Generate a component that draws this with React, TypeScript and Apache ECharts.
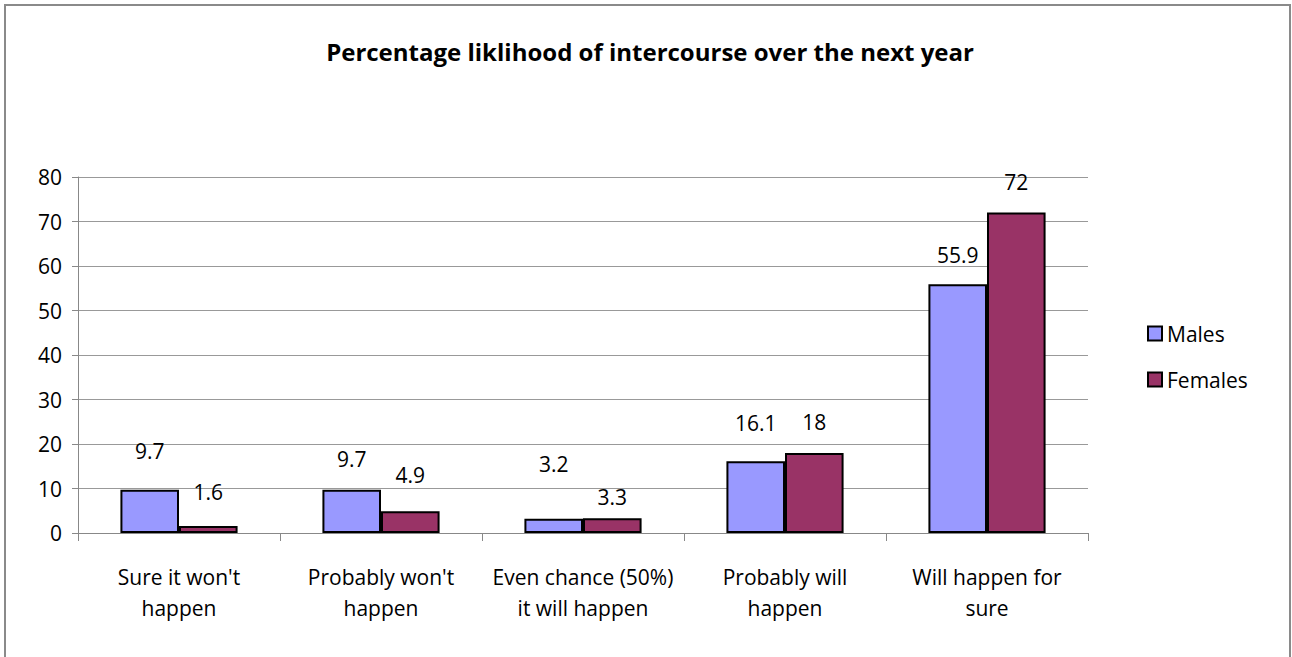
import React, { useEffect, useRef } from "react";
import * as echarts from "echarts";

const categories = [
  "Sure it won't\nhappen",
  "Probably won't\nhappen",
  "Even chance (50%)\nit will happen",
  "Probably will\nhappen",
  "Will happen for\nsure",
];
const males = [9.7, 9.7, 3.2, 16.1, 55.9];
const females = [1.6, 4.9, 3.3, 18, 72];
const yTicks = { min: 0, max: 80, interval: 10 };

// label distances above bar tops (manually placed labels in the original)
const maleLabelDistance = [28, 20, 44, 28, 19];
const femaleLabelDistance = [23, 26, 11, 20, 20];

const FONT = "'Open Sans', 'Noto Sans', sans-serif";
const FS = 21;

export default function App() {
  const ref = useRef<HTMLDivElement>(null);
  useEffect(() => {
    if (!ref.current) return;
    const chart = echarts.init(ref.current, null, { renderer: "svg" });
    const mk = (vals: number[], dists: number[]) =>
      vals.map((v, i) => ({ value: v, label: { distance: dists[i] } }));
    chart.setOption({
      animation: false,
      backgroundColor: "#fff",
      textStyle: { fontFamily: FONT },
      title: {
        text: "Percentage liklihood of intercourse over the next year",
        left: 645,
        textAlign: "center",
        top: 34,
        textStyle: { fontFamily: FONT, fontWeight: "bold", fontSize: 24, color: "#000" },
      },
      legend: {
        orient: "vertical",
        left: 1147,
        top: 323,
        padding: 0,
        itemWidth: 14,
        itemHeight: 14,
        itemGap: 25,
        icon: "rect",
        itemStyle: { borderColor: "#000", borderWidth: 2 },
        textStyle: { fontFamily: FONT, fontSize: FS, color: "#000" },
        data: ["Males", "Females"],
      },
      grid: { left: 78, right: 204, top: 177, bottom: 124, containLabel: false },
      xAxis: {
        type: "category",
        data: categories,
        axisLine: { lineStyle: { color: "#888", width: 1 } },
        axisTick: { show: true, length: 8, lineStyle: { color: "#888" } },
        axisLabel: {
          fontFamily: FONT,
          fontSize: FS,
          color: "#000",
          lineHeight: 31,
          margin: 28,
          interval: 0,
        },
      },
      yAxis: {
        type: "value",
        min: yTicks.min,
        max: yTicks.max,
        interval: yTicks.interval,
        axisLine: { show: true, lineStyle: { color: "#888", width: 1 } },
        axisTick: { show: true, length: 6, lineStyle: { color: "#888" } },
        axisLabel: { fontFamily: FONT, fontSize: FS, color: "#000", margin: 16 },
        splitLine: { lineStyle: { color: "#999", width: 1 } },
      },
      series: [
        {
          name: "Males",
          type: "bar",
          data: mk(males, maleLabelDistance),
          barGap: "0%",
          barCategoryGap: "42%",
          itemStyle: { color: "#9999FF", borderColor: "#000", borderWidth: 2 },
          label: { show: true, position: "top", fontFamily: FONT, fontSize: FS, color: "#000" },
        },
        {
          name: "Females",
          type: "bar",
          data: mk(females, femaleLabelDistance),
          barGap: "0%",
          barCategoryGap: "42%",
          itemStyle: { color: "#993366", borderColor: "#000", borderWidth: 2 },
          label: { show: true, position: "top", fontFamily: FONT, fontSize: FS, color: "#000" },
        },
      ],
      graphic: [
        {
          type: "rect",
          shape: { x: 5, y: 5, width: 1285, height: 700 },
          style: { fill: "none", stroke: "#8a8a8a", lineWidth: 2 },
          silent: true,
        },
      ],
    });
    return () => chart.dispose();
  }, []);
  return (
    <div
      ref={ref}
      style={{ position: "absolute", left: 0, top: 0, width: 1292, height: 657 }}
    />
  );
}
